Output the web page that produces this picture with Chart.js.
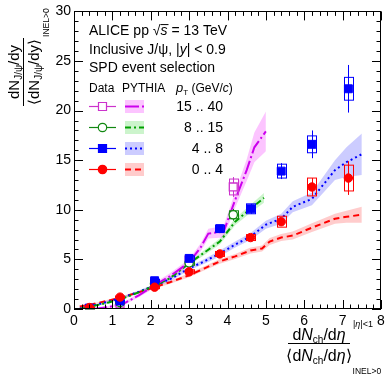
<!DOCTYPE html>
<html>
<head>
<meta charset="utf-8">
<script src="https://cdn.jsdelivr.net/npm/chart.js@4.4.0/dist/chart.umd.min.js"></script>
<style>
  html,body{margin:0;padding:0;background:#fff;}
  canvas{display:block;}
</style>
</head>
<body>
<canvas id="jpsi" width="390" height="379"></canvas>
<script>
/* J/psi self-normalised yield vs multiplicity, ALICE pp 13 TeV */

const FONT = "'Liberation Sans', Arial, Helvetica, sans-serif";

/* ---------- data points ---------- */
const xData    = [0.4, 1.2, 2.1, 3.0, 3.8, 4.6, 5.4, 6.2, 7.15];
const xHigh    = [0.4, 1.2, 2.1, 3.0, 4.15];

const yPt0    = [0.15, 1.2, 2.2, 3.75, 5.55, 7.2, 8.8, 12.3, 13.2];
const statPt0 = [0.05, 0.1, 0.1, 0.15, 0.2, 0.25, 0.35, 0.9, 1.7];
const sysPt0  = [0.05, 0.1, 0.15, 0.2, 0.25, 0.3, 0.55, 0.9, 1.3];

const yPt4    = [0.1, 0.8, 2.85, 5.1, 8.1, 10.1, 13.9, 16.6, 22.2];
const statPt4 = [0.05, 0.1, 0.15, 0.2, 0.3, 0.5, 0.8, 1.4, 2.4];
const sysPt4  = [0.05, 0.1, 0.15, 0.25, 0.35, 0.5, 0.7, 0.85, 1.15];

const yPt8    = [0.05, 0.65, 2.55, 4.65, 9.5];
const statPt8 = [0.05, 0.1, 0.2, 0.3, 0.6];
const sysPt8  = [0.05, 0.1, 0.15, 0.25, 0.4];

const yPt15    = [0.05, 0.5, 2.6, 4.9, 12.3];
const statPt15 = [0.05, 0.15, 0.3, 0.5, 1.0];
const sysPt15  = [0.05, 0.1, 0.2, 0.35, 0.8];

/* ---------- PYTHIA curves ---------- */
const pyX0   = [0.15,0.5,0.9,1.3,1.7,2.1,2.5,3.0,3.4,3.8,4.2,4.6,4.9,5.1,5.4,5.7,6.2,6.8,7.1,7.5];
const pyY0   = [0.25,0.5,0.85,1.25,1.7,2.2,2.7,3.4,4.1,4.8,5.3,5.9,6.1,6.8,7.2,7.4,8.2,9.1,9.3,9.5];
const pyE0   = [0.05,0.05,0.1,0.1,0.1,0.15,0.15,0.2,0.2,0.25,0.25,0.3,0.3,0.35,0.35,0.4,0.45,0.5,0.6,0.8];

const pyX4   = [0.15,0.5,0.9,1.3,1.7,2.1,2.5,3.0,3.4,3.8,4.2,4.6,5.0,5.4,5.7,6.2,6.8,7.1,7.5];
const pyY4   = [0.05,0.35,0.75,1.2,1.75,2.35,3.0,4.1,4.8,5.6,6.5,7.3,8.5,9.1,10.3,11.1,14.0,14.8,15.6];
const pyE4   = [0.05,0.05,0.1,0.1,0.15,0.15,0.2,0.2,0.25,0.3,0.3,0.35,0.4,0.5,0.55,0.65,1.0,1.5,2.1];

const pyX8   = [0.15,0.5,0.9,1.3,1.7,2.1,2.5,3.0,3.4,3.8,4.2,4.6,4.95];
const pyY8   = [0.0,0.3,0.65,1.1,1.7,2.35,3.1,4.6,5.7,6.8,8.8,10.1,11.2];
const pyE8   = [0.05,0.05,0.1,0.1,0.1,0.15,0.15,0.2,0.25,0.3,0.35,0.4,0.5];

const pyX15  = [0.5,0.9,1.3,1.7,2.1,2.5,3.0,3.3,3.5,3.9,4.2,4.5,4.7,5.0];
const pyY15  = [0.0,0.2,0.55,1.4,2.4,3.3,4.7,6.2,7.6,7.8,11.0,14.0,16.3,17.9];
const pyE15  = [0.05,0.1,0.15,0.2,0.25,0.3,0.35,0.4,0.5,0.6,0.8,1.1,1.5,2.0];

const xTicks = [0,1,2,3,4,5,6,7,8];
const yTicks = [0,5,10,15,20,25,30];

const COLORS = {
  pt0:  { line:"#ff0000", data:"#ff0000", band:"rgba(255,0,0,0.2)" },
  pt4:  { line:"#0000ff", data:"#0000ff", band:"rgba(0,0,255,0.2)" },
  pt8:  { line:"#00a000", data:"#118811", band:"rgba(0,200,0,0.2)" },
  pt15: { line:"#cc00ee", data:"#cc33cc", band:"rgba(240,0,255,0.23)" }
};
const DASH = { pt0:[6,4], pt4:[2,3], pt8:[6,3,2,3], pt15:[14,3,2,3] };

const pts = (xs, ys) => xs.map((x,i) => ({x, y:ys[i]}));

function bandSets(xs, ys, es, col){
  return [
    { data: xs.map((x,i)=>({x, y:ys[i]-es[i]})), showLine:true, borderWidth:0, pointRadius:0, fill:false, order:5 },
    { data: xs.map((x,i)=>({x, y:ys[i]+es[i]})), showLine:true, borderWidth:0, pointRadius:0, fill:'-1', backgroundColor:col, order:5 }
  ];
}
function curveSet(xs, ys, key){
  return { data: pts(xs, ys), showLine:true, borderColor:COLORS[key].line, borderWidth:2,
           borderDash:DASH[key], pointRadius:0, fill:false, order:3 };
}
function dataSet(xs, ys, stat, sys, key, style, filled, order){
  const c = COLORS[key].data;
  return { data: pts(xs, ys), showLine:false, pointStyle:style,
           pointRadius: style === 'rect' ? 5.6 : 4.2,
           pointBackgroundColor: filled ? c : '#fff', pointBorderColor:c, pointBorderWidth: filled ? 1 : 1.3,
           stat, sys, errColor:c, order };
}

const datasets = [
  ...bandSets(pyX15, pyY15, pyE15, COLORS.pt15.band),
  ...bandSets(pyX8,  pyY8,  pyE8,  COLORS.pt8.band),
  ...bandSets(pyX4,  pyY4,  pyE4,  COLORS.pt4.band),
  ...bandSets(pyX0,  pyY0,  pyE0,  COLORS.pt0.band),
  curveSet(pyX15, pyY15, 'pt15'),
  curveSet(pyX8,  pyY8,  'pt8'),
  curveSet(pyX4,  pyY4,  'pt4'),
  curveSet(pyX0,  pyY0,  'pt0'),
  dataSet(xHigh, yPt15, statPt15, sysPt15, 'pt15', 'rect', false, 2.4),
  dataSet(xHigh, yPt8,  statPt8,  sysPt8,  'pt8',  'circle', false, 2.3),
  dataSet(xData, yPt4,  statPt4,  sysPt4,  'pt4',  'rect', true, 2.2),
  dataSet(xData, yPt0,  statPt0,  sysPt0,  'pt0',  'circle', true, 2.1)
];

/* ---------- rich text helper ---------- */
function fontOf(p, base){ return `${p.i ? 'italic ' : ''}${p.s || base}px ${FONT}`; }
function rich(ctx, x, y, parts, base, align){
  let w = 0;
  parts.forEach(p => { ctx.font = fontOf(p, base); w += ctx.measureText(p.t).width; });
  let cx = align === 'right' ? x - w : align === 'center' ? x - w/2 : x;
  parts.forEach(p => {
    ctx.font = fontOf(p, base);
    const pw = ctx.measureText(p.t).width;
    ctx.fillText(p.t, cx, y + (p.dy || 0));
    if (p.over){ ctx.fillRect(cx, y - base*0.78, pw + 1, 1); }
    cx += pw;
  });
  return w;
}

/* ---------- plugins ---------- */
const errorBars = {
  id:'errorBars',
  beforeDatasetDraw(chart, args){
    const ds = chart.data.datasets[args.index];
    if (!ds.stat) return;
    const {ctx, scales:{x, y}} = chart;
    ctx.save();
    ctx.strokeStyle = ds.errColor; ctx.lineWidth = 1;
    ds.data.forEach((p,i) => {
      const px = Math.round(x.getPixelForValue(p.x)) + 0.5;
      ctx.beginPath();
      ctx.moveTo(px, y.getPixelForValue(p.y - ds.stat[i]));
      ctx.lineTo(px, y.getPixelForValue(p.y + ds.stat[i]));
      ctx.stroke();
      const x0 = x.getPixelForValue(p.x - 0.12), x1 = x.getPixelForValue(p.x + 0.12);
      const y0 = y.getPixelForValue(p.y + ds.sys[i]), y1 = y.getPixelForValue(p.y - ds.sys[i]);
      ctx.strokeRect(Math.round(x0)+0.5, y0, Math.round(x1-x0), y1-y0);
    });
    ctx.restore();
  }
};

const frame = {
  id:'frame',
  afterDatasetsDraw(chart){
    const {ctx, chartArea:a, scales:{x, y}} = chart;
    ctx.save();
    ctx.strokeStyle = '#000'; ctx.lineWidth = 1;
    ctx.strokeRect(Math.round(a.left)+0.5, Math.round(a.top)+0.5, Math.round(a.right-a.left)-1, Math.round(a.bottom-a.top)-1);
    ctx.beginPath();
    for (let k = 0; k <= 40; k++){
      const v = k*0.2, px = Math.round(x.getPixelForValue(v))+0.5, len = k%5===0 ? 9 : 4.5;
      ctx.moveTo(px, a.bottom); ctx.lineTo(px, a.bottom-len);
      ctx.moveTo(px, a.top);    ctx.lineTo(px, a.top+len);
    }
    for (let v = 0; v <= 30; v++){
      const py = Math.round(y.getPixelForValue(v))+0.5, len = v%5===0 ? 9 : 4.5;
      ctx.moveTo(a.left, py);  ctx.lineTo(a.left+len, py);
      ctx.moveTo(a.right, py); ctx.lineTo(a.right-len, py);
    }
    ctx.stroke();
    ctx.restore();
  }
};

const annotations = {
  id:'annotations',
  afterDraw(chart){
    const ctx = chart.ctx;
    ctx.save();
    ctx.fillStyle = '#000'; ctx.textBaseline = 'alphabetic'; ctx.textAlign = 'left';

    rich(ctx, 89, 35, [{t:'ALICE pp '},{t:'√'},{t:'s', i:true, over:true},{t:' = 13 TeV'}], 14, 'left');
    rich(ctx, 89, 54, [{t:'Inclusive J/ψ, |'},{t:'y', i:true},{t:'| < 0.9'}], 14, 'left');
    rich(ctx, 89, 72, [{t:'SPD event selection'}], 14, 'left');

    rich(ctx, 89, 92, [{t:'Data'}], 12, 'left');
    rich(ctx, 122, 92, [{t:'PYTHIA'}], 12, 'left');
    rich(ctx, 176, 92, [{t:'p', i:true, s:13},{t:'T', s:8, dy:3},{t:' (GeV/'},{t:'c', i:true},{t:')'}], 12, 'left');

    const rows = [
      {key:'pt15', label:'15 .. 40', style:'rect',   filled:false, y:106},
      {key:'pt8',  label:'8 .. 15',  style:'circle', filled:false, y:127},
      {key:'pt4',  label:'4 .. 8',   style:'rect',   filled:true,  y:148},
      {key:'pt0',  label:'0 .. 4',   style:'circle', filled:true,  y:169}
    ];
    rows.forEach(r => {
      const c = COLORS[r.key];
      ctx.strokeStyle = c.data; ctx.lineWidth = 1.2;
      ctx.beginPath(); ctx.moveTo(89, r.y+0.5); ctx.lineTo(116, r.y+0.5); ctx.stroke();
      ctx.fillStyle = r.filled ? c.data : '#fff';
      ctx.beginPath();
      if (r.style === 'rect') ctx.rect(98.5, r.y-3.5, 8, 8); else ctx.arc(102.5, r.y+0.5, 4.2, 0, Math.PI*2);
      ctx.fill(); ctx.stroke();
      ctx.fillStyle = c.band; ctx.fillRect(125, r.y-6, 19, 13);
      ctx.strokeStyle = c.line; ctx.lineWidth = 2; ctx.setLineDash(DASH[r.key]);
      ctx.beginPath(); ctx.moveTo(125, r.y+0.5); ctx.lineTo(144, r.y+0.5); ctx.stroke();
      ctx.setLineDash([]);
      ctx.fillStyle = '#000';
      rich(ctx, 223, r.y+5, [{t:r.label}], 14, 'right');
    });

    /* x axis title */
    const xc = 319;
    rich(ctx, xc, 340, [{t:'d'},{t:'N', i:true},{t:'ch', s:10, dy:3},{t:'/d'},{t:'η', i:true}], 16, 'center');
    rich(ctx, 353, 327, [{t:'|'},{t:'η', i:true},{t:'|<1'}], 9, 'left');
    ctx.fillRect(288, 343, 62, 1);
    const dw = rich(ctx, xc, 361, [{t:'⟨d'},{t:'N', i:true},{t:'ch', s:10, dy:3},{t:'/d'},{t:'η', i:true},{t:'⟩'}], 16, 'center');
    rich(ctx, xc + dw/2 + 1, 374, [{t:'INEL>0'}], 8.5, 'left');
    ctx.restore();

    /* y axis title, rotated */
    ctx.save();
    ctx.fillStyle = '#000'; ctx.textBaseline = 'alphabetic'; ctx.textAlign = 'left';
    ctx.translate(0, 72);
    ctx.rotate(-Math.PI/2);
    rich(ctx, 0, 19, [{t:'dN'},{t:'J/ψ', s:10, dy:3},{t:'/dy'}], 15, 'center');
    ctx.fillRect(-34, 23, 68, 1);
    const yw = rich(ctx, 0, 39, [{t:'⟨dN'},{t:'J/ψ', s:10, dy:3},{t:'/dy⟩'}], 15, 'center');
    rich(ctx, yw/2 + 2, 49, [{t:'INEL>0'}], 8.5, 'left');
    ctx.restore();
  }
};

new Chart(document.getElementById('jpsi'), {
  type:'scatter',
  data:{ datasets },
  options:{
    responsive:false,
    animation:false,
    layout:{ padding:{ top:9, right:9, left:0, bottom:0 } },
    plugins:{ legend:{ display:false }, tooltip:{ enabled:false } },
    scales:{
      x:{
        type:'linear', min:0, max:8,
        afterFit: s => { s.height = 70; },
        afterBuildTicks: s => { s.ticks = xTicks.map(v => ({value:v})); },
        grid:{ display:false, drawTicks:false }, border:{ display:false },
        ticks:{ color:'#000', padding:4, maxRotation:0, autoSkip:false, font:{ family:FONT, size:14 } }
      },
      y:{
        type:'linear', min:0, max:30,
        afterFit: s => { s.width = 74; },
        afterBuildTicks: s => { s.ticks = yTicks.map(v => ({value:v})); },
        grid:{ display:false, drawTicks:false }, border:{ display:false },
        ticks:{ color:'#000', padding:3, autoSkip:false, font:{ family:FONT, size:14 } }
      }
    }
  },
  plugins:[errorBars, frame, annotations]
});
</script>
</body>
</html>
